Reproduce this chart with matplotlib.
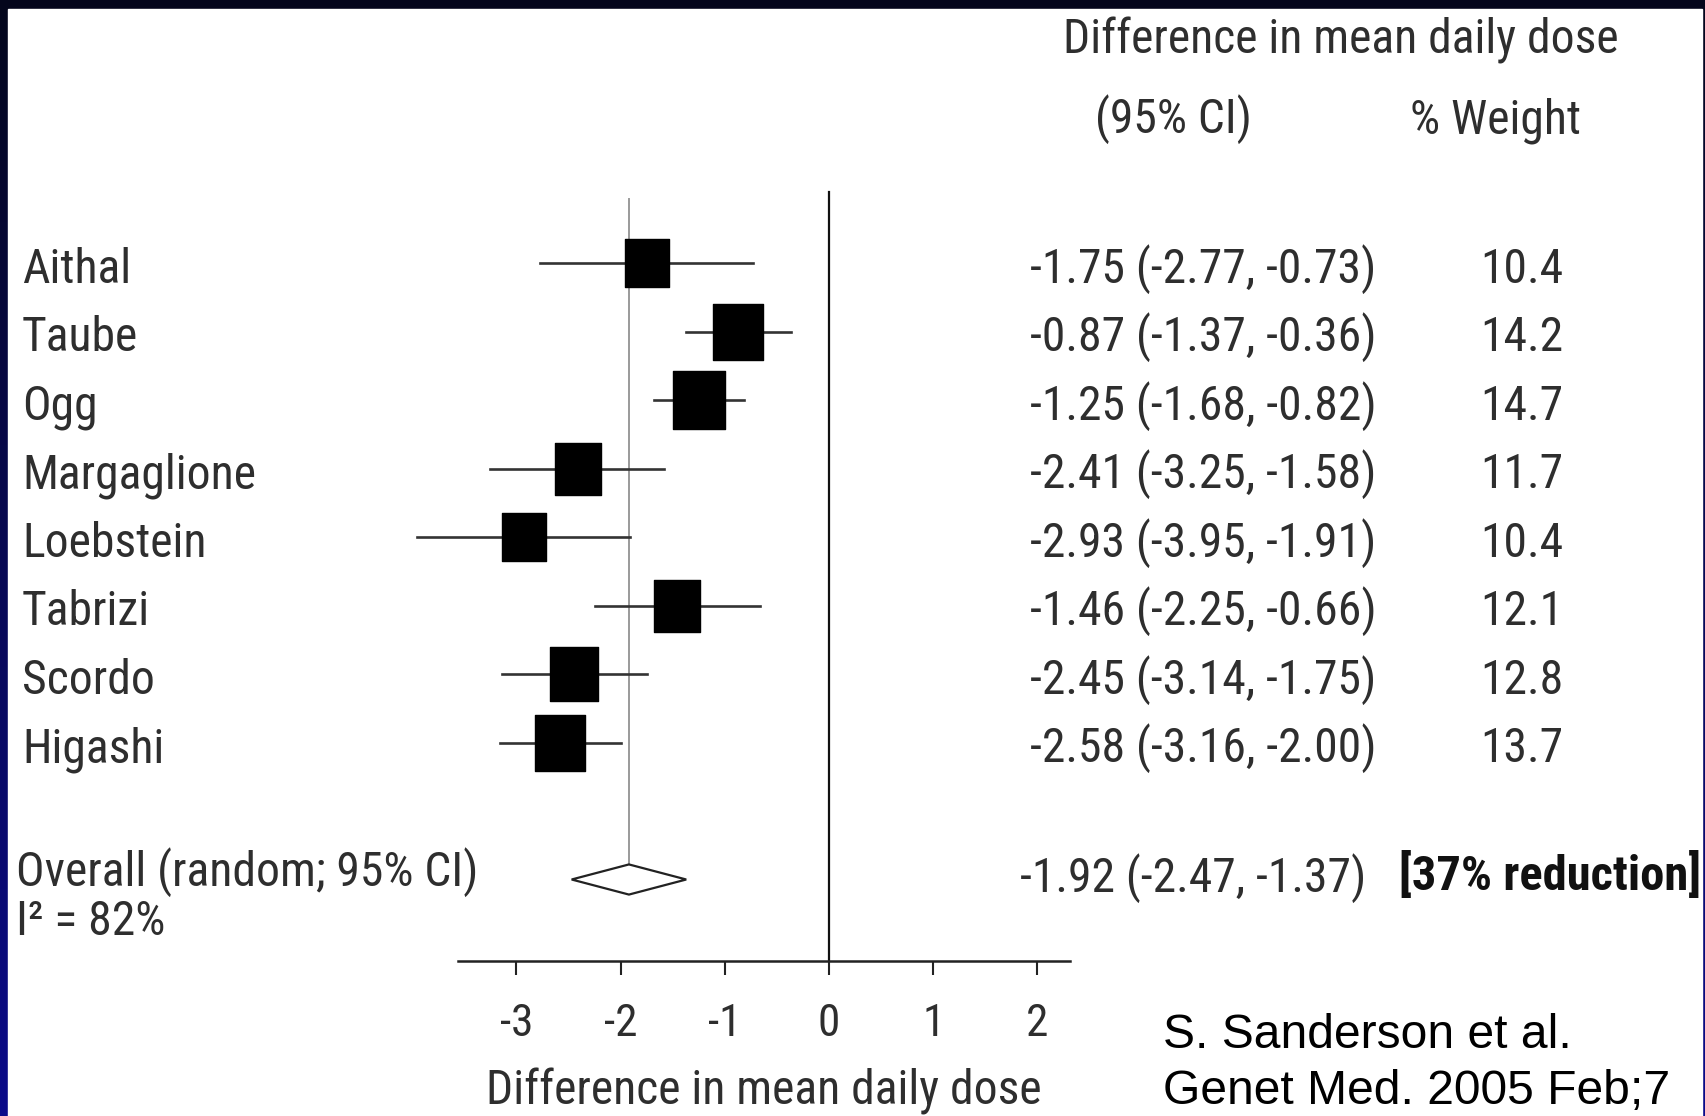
import numpy as np
import matplotlib
matplotlib.use("Agg")
import matplotlib.pyplot as plt
from matplotlib import font_manager as fm
from matplotlib.patches import Rectangle
from matplotlib.path import Path
from matplotlib.textpath import TextPath
from matplotlib.transforms import blended_transform_factory

studies = ["Aithal", "Taube", "Ogg", "Margaglione", "Loebstein", "Tabrizi", "Scordo", "Higashi"]
diff = [-1.75, -0.87, -1.25, -2.41, -2.93, -1.46, -2.45, -2.58]
ci_lo = [-2.77, -1.37, -1.68, -3.25, -3.95, -2.25, -3.14, -3.16]
ci_hi = [-0.73, -0.36, -0.82, -1.58, -1.91, -0.66, -1.75, -2.00]
weight = [10.4, 14.2, 14.7, 11.7, 10.4, 12.1, 12.8, 13.7]
overall = -1.92
overall_ci = (-2.47, -1.37)
xticks = [-3, -2, -1, 0, 1, 2]

W, H = 1705, 1116
ink = "#2e2e2e"


def pick_font(bold=False):
    # look for a narrow sans (like the scanned figure), else plain Liberation Sans
    want = 700 if bold else 400
    prefs = ["liberation sans narrow", "arial narrow", "roboto condensed",
             "open sans condensed", "dejavu sans condensed", "noto sans condensed"]
    found = {}
    for f in fm.fontManager.ttflist:
        key = (f.name + " " + str(f.stretch) + " " + f.fname).lower()
        if f.style != "normal":
            continue
        w = f.weight if isinstance(f.weight, int) else (700 if "bold" in str(f.weight) else 400)
        if abs(w - want) > 100:
            continue
        for p in prefs:
            toks = p.split()
            if all(t in key.replace("-", " ").replace("_", " ") for t in toks) or \
               (p.replace(" ", "") in f.fname.lower().replace("-", "").replace("_", "")):
                found.setdefault(p, f.fname)
    for p in prefs:
        if p in found:
            return fm.FontProperties(fname=found[p])
    return fm.FontProperties(family="Liberation Sans", weight="bold" if bold else "normal")


def fit_size(prop, s, target_px):
    w = TextPath((0, 0), s, size=100, prop=prop).get_extents().width
    return 100 * target_px / (w * 100 / 72)


reg = pick_font()
bold = pick_font(bold=True)
cite = fm.FontProperties(family="Liberation Sans")
fs = fit_size(reg, "-1.75 (-2.77, -0.73)", 342)
fs_bold = fit_size(bold, "[37% reduction]", 297)
fs_cite = fit_size(cite, "Genet Med. 2005 Feb;7", 502)

fig = plt.figure(figsize=(W / 100, H / 100), dpi=100)

# slide background: dark navy border, white page
bg = fig.add_axes([0, 0, 1, 1])
bg.set_xlim(0, W)
bg.set_ylim(H, 0)
bg.axis("off")
grad = np.linspace(0, 1, 256).reshape(-1, 1)
cmap = matplotlib.colors.LinearSegmentedColormap.from_list("navy", ["#04061c", "#0b0b8a"])
bg.imshow(grad, cmap=cmap, extent=[0, W, H, 0], aspect="auto")
bg.add_patch(Rectangle((8, 9), 1694, H - 9, color="white"))

# forest plot axes
px0 = 829.0   # pixel of x = 0
ppu = 104.2   # pixels per unit
row0 = 263.0  # pixel of first row
prow = 68.5   # pixels per row
left_px, right_px = 300, 1100
top_px, bot_px = 150, 961
ax = fig.add_axes([left_px / W, 1 - bot_px / H, (right_px - left_px) / W, (bot_px - top_px) / H])
ax.patch.set_alpha(0)
ax.set_xlim((left_px - px0) / ppu, (right_px - px0) / ppu)
ax.set_ylim((bot_px - row0) / prow, (top_px - row0) / prow)

rows = np.arange(len(studies))
over_row = 9

ax.plot([0, 0], [-1.03, (bot_px - row0) / prow], color="#111111", lw=1.6, zorder=1)
ax.plot([overall, overall], [-0.94, over_row - 0.22], color="#9a9a9a", lw=1.4, zorder=1)

box = Path([(-0.45, -0.5), (0.45, -0.5), (0.45, 0.5), (-0.45, 0.5), (-0.45, -0.5)],
           [Path.MOVETO, Path.LINETO, Path.LINETO, Path.LINETO, Path.CLOSEPOLY])
for r, m, lo, hi, w in zip(rows, diff, ci_lo, ci_hi, weight):
    ax.plot([lo, hi], [r, r], color="#333333", lw=1.9, zorder=2, clip_on=False)
    ax.plot(m, r, marker=box, markersize=10.8 * np.sqrt(w), color="black", zorder=3)

ax.fill([overall_ci[0], overall, overall_ci[1], overall],
        [over_row, over_row - 0.22, over_row, over_row + 0.22],
        facecolor="white", edgecolor="#222222", lw=1.6, zorder=3)

for s in ["left", "top", "right"]:
    ax.spines[s].set_visible(False)
ax.spines["bottom"].set_bounds(-3.56, 2.31)
ax.spines["bottom"].set_color("#222222")
ax.spines["bottom"].set_linewidth(1.8)
ax.set_yticks([])
ax.set_xticks(xticks)
ax.set_xticklabels([str(t) for t in xticks])
ax.tick_params(axis="x", direction="out", length=10, width=1.5, colors="#222222",
               labelcolor=ink, pad=20)
for lab in ax.get_xticklabels():
    lab.set_fontproperties(reg)
    lab.set_fontsize(fs * 0.95)
ax.set_xlabel("Difference in mean daily dose", fontproperties=reg, fontsize=fs,
              color=ink, labelpad=17)
ax.xaxis.label.set_x((764 - left_px) / (right_px - left_px))

# text columns (baselines given in rows)
tr = blended_transform_factory(fig.transFigure, ax.transData)
base = 0.29
for r, s, m, lo, hi, w in zip(rows, studies, diff, ci_lo, ci_hi, weight):
    ax.text(22 / W, r + base, s, transform=tr, fontproperties=reg, fontsize=fs,
            color=ink, va="baseline", ha="left")
    ax.text(1030 / W, r + base, f"{m:.2f} ({lo:.2f}, {hi:.2f})", transform=tr,
            fontproperties=reg, fontsize=fs, color=ink, va="baseline", ha="left")
    ax.text(1522 / W, r + base, f"{w:.1f}", transform=tr, fontproperties=reg,
            fontsize=fs, color=ink, va="baseline", ha="center")

ax.text(16 / W, over_row + 0.09, "Overall (random; 95% CI)", transform=tr,
        fontproperties=reg, fontsize=fs, color=ink, va="baseline", ha="left")
ax.text(16 / W, over_row + 0.81, "I² = 82%", transform=tr,
        fontproperties=reg, fontsize=fs, color=ink, va="baseline", ha="left")
ax.text(1020 / W, over_row + 0.18,
        f"{overall:.2f} ({overall_ci[0]:.2f}, {overall_ci[1]:.2f})", transform=tr,
        fontproperties=reg, fontsize=fs, color=ink, va="baseline", ha="left")
ax.text(1399 / W, over_row + 0.15, "[37% reduction]", transform=tr,
        fontproperties=bold, fontsize=fs_bold, color="#111111", va="baseline", ha="left")

fig.text(1063 / W, 1 - 54 / H, "Difference in mean daily dose", fontproperties=reg,
         fontsize=fs, color=ink, va="baseline", ha="left")
fig.text(1173 / W, 1 - 133 / H, "(95% CI)", fontproperties=reg, fontsize=fs,
         color=ink, va="baseline", ha="center")
fig.text(1496 / W, 1 - 133 / H, "% Weight", fontproperties=reg, fontsize=fs,
         color=ink, va="baseline", ha="center")

fig.text(1163 / W, 1 - 1048 / H, "S. Sanderson et al.", fontproperties=cite,
         fontsize=fs_cite, color="black", va="baseline", ha="left")
fig.text(1163 / W, 1 - 1104 / H, "Genet Med. 2005 Feb;7", fontproperties=cite,
         fontsize=fs_cite, color="black", va="baseline", ha="left")

fig.savefig("out.png", dpi=100, facecolor="#04061c")
